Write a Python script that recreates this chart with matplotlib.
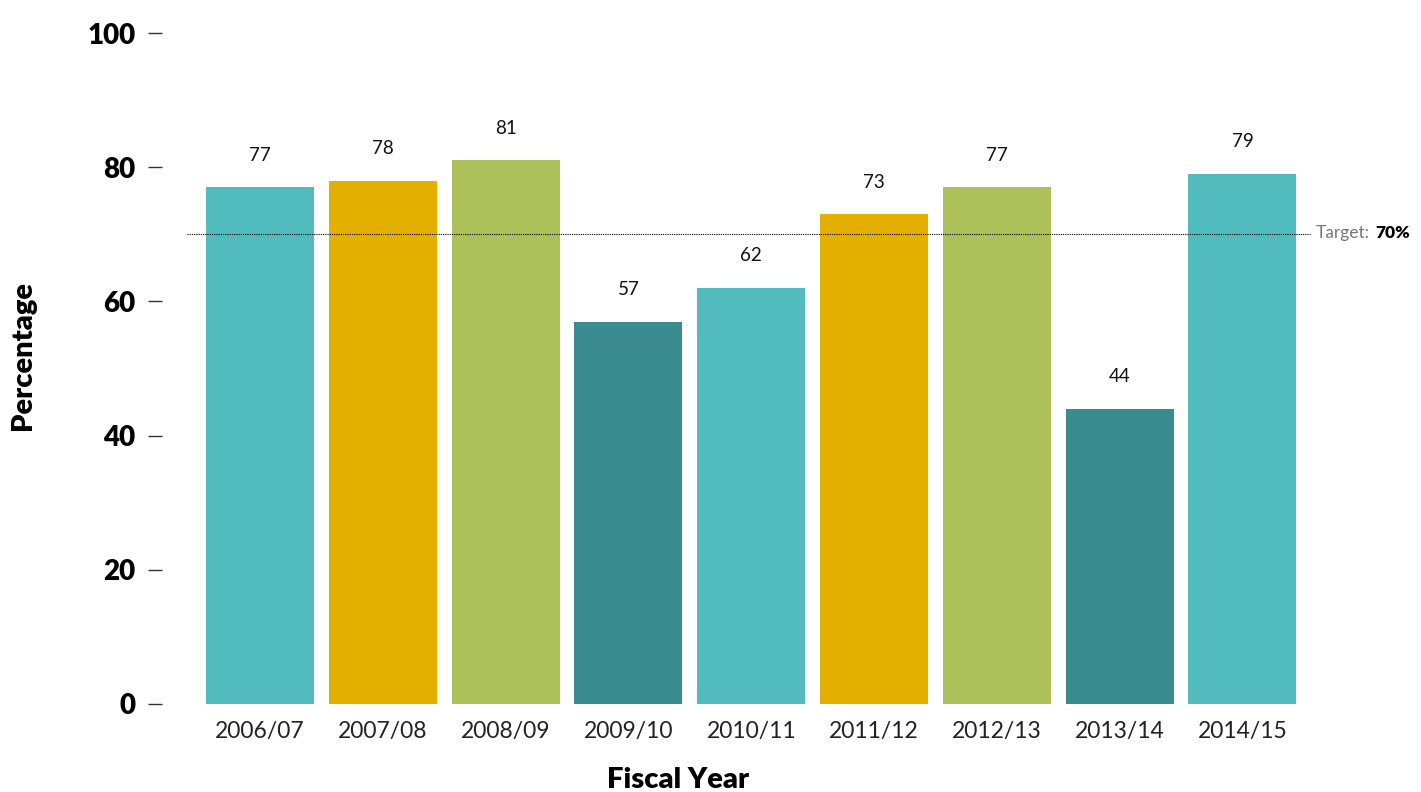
import matplotlib
matplotlib.use("Agg")
import matplotlib.pyplot as plt

years = ["2006/07", "2007/08", "2008/09", "2009/10", "2010/11",
         "2011/12", "2012/13", "2013/14", "2014/15"]
values = [77, 78, 81, 57, 62, 73, 77, 44, 79]
colors = ["#52BBBD", "#E3B000", "#ADC05A", "#3A8B90", "#52BBBD",
          "#E3B000", "#ADC05A", "#3A8B90", "#52BBBD"]
target = 70
yticks = [0, 20, 40, 60, 80, 100]

plt.rcParams['font.family'] = ['Lato', 'DejaVu Sans']

W, H = 1421, 792
fig = plt.figure(figsize=(W / 100, H / 100), dpi=100)
left_px, right_px, top_px, bot_px = 162, 1310, 33, 704
ax = fig.add_axes([left_px / W, 1 - bot_px / H, (right_px - left_px) / W, (bot_px - top_px) / H])

x = list(range(len(years)))
ax.bar(x, values, width=0.88, color=colors, zorder=2)

c0, step = 260, 122.8
ax.set_xlim((left_px - c0) / step, (right_px - c0) / step)
ax.set_ylim(0, 100)

for xi, v in zip(x, values):
    ax.annotate(str(v), (xi, v), xytext=(0, 17), textcoords="offset points",
                ha="center", va="bottom", fontsize=13.5, color="#111111")

# target line
ax.plot([(187 - c0) / step, (right_px - c0) / step], [target, target],
        color="black", linestyle=(0, (1, 1)), linewidth=0.8, zorder=3, clip_on=False)
fig.text(1316 / W, 1 - 233 / H, "Target:", fontsize=12.5, color="#777777",
         fontweight="normal", ha="left", va="center")
fig.text(1375 / W, 1 - 233 / H, f"{target}%", fontsize=12.5, color="black",
         fontweight="heavy", ha="left", va="center")

ax.set_yticks(yticks)
ax.set_yticklabels([str(t) for t in yticks], fontsize=20, fontweight="heavy")
ax.tick_params(axis="y", direction="out", length=10, width=1, pad=9, color="#333333")
ax.set_xticks(x)
ax.set_xticklabels(years, fontsize=16.5, fontweight="normal", color="#222222")
ax.tick_params(axis="x", length=0, pad=12)

for s in ax.spines.values():
    s.set_visible(False)

fig.text(678 / W, 1 - 780 / H, "Fiscal Year", fontsize=21, fontweight="heavy",
         ha="center", va="center")
fig.text(23 / W, 1 - 356 / H, "Percentage", fontsize=21, fontweight="heavy",
         ha="center", va="center", rotation=90)

fig.savefig("out.png", dpi=100)
